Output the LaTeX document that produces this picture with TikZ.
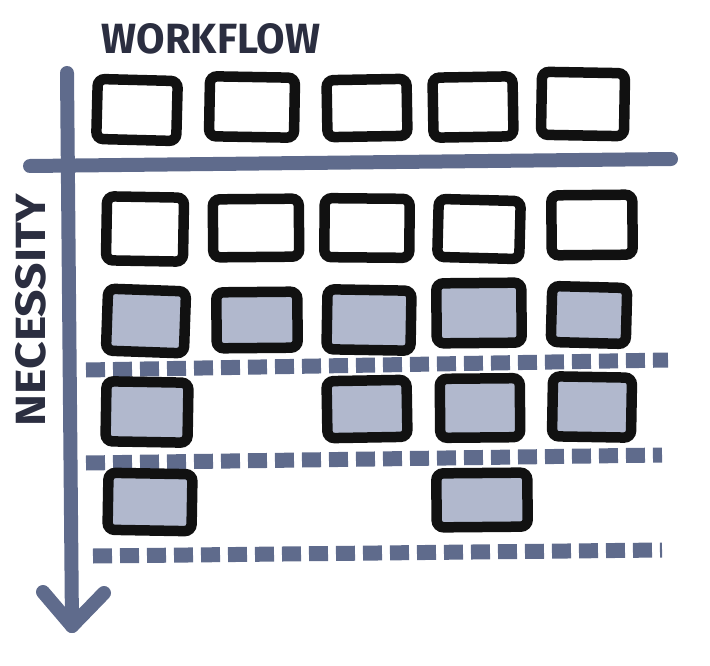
\documentclass[tikz,border=0pt]{standalone}
\usepackage{fontspec}
\setmainfont{Fira Sans}
\definecolor{axiscol}{HTML}{5F6B8C}
\definecolor{fillcol}{HTML}{B1B8CD}
\definecolor{boxcol}{HTML}{111111}
\definecolor{textcol}{HTML}{2B2E40}
\begin{document}
\begin{tikzpicture}[x=1pt,y=-1pt,
  axis/.style={line width=14pt, draw=axiscol, line cap=round, line join=round},
  sep/.style={line width=15pt, draw=axiscol, dash pattern=on 19pt off 8pt},
  card/.style={rectangle, draw=boxcol, line width=10.5pt, rounded corners=7pt, inner sep=0pt},
  wcard/.style={card, fill=white},
  gcard/.style={card, fill=fillcol},
  lbl/.style={inner sep=0pt, text=textcol}]
\useasboundingbox (0,0) rectangle (710,666);

% axes
\coordinate (vtop) at (67,73);
\coordinate (vbot) at (72,626);
\coordinate (aleft) at (43,592);
\coordinate (aright) at (104,593);
\coordinate (hleft) at (30,166);
\coordinate (hright) at (671,159);
\draw[axis] (vtop) -- (vbot);
\draw[axis] (aleft) -- (vbot) -- (aright);
\draw[axis] (hleft) -- (hright);

% separators
\coordinate (s1a) at (86,370);
\coordinate (s1b) at (668,360);
\coordinate (s2a) at (86,463);
\coordinate (s2b) at (662,455);
\coordinate (s3a) at (93,556);
\coordinate (s3b) at (662,550);
\draw[sep] (s1a) -- (s1b);
\draw[sep] (s2a) -- (s2b);
\draw[sep] (s3a) -- (s3b);

% labels
\node[lbl] (workflow) at (211,39) {\resizebox{218pt}{30pt}{\bfseries WORKFLOW}};
\node[lbl, rotate=90] (necessity) at (31,310) {\resizebox{232pt}{30pt}{\bfseries NECESSITY}};

% row 1
\node[wcard, minimum width=80pt, minimum height=60pt, rotate=-1.5] (a1) at (137,110) {};
\node[wcard, minimum width=85pt, minimum height=60pt, rotate=-1] (a2) at (252,107) {};
\node[wcard, minimum width=80pt, minimum height=57pt, rotate=1] (a3) at (367,108) {};
\node[wcard, minimum width=80pt, minimum height=60pt, rotate=1] (a4) at (473,107) {};
\node[wcard, minimum width=83pt, minimum height=63pt, rotate=-1] (a5) at (583,104) {};

% row 2
\node[wcard, minimum width=77pt, minimum height=64pt, rotate=-1] (b1) at (145,229) {};
\node[wcard, minimum width=86pt, minimum height=58pt, rotate=0.5] (b2) at (256,228) {};
\node[wcard, minimum width=85pt, minimum height=59pt, rotate=-0.5] (b3) at (367,228) {};
\node[wcard, minimum width=82pt, minimum height=58pt, rotate=-1.5] (b4) at (479,229) {};
\node[wcard, minimum width=81pt, minimum height=60pt, rotate=0.5] (b5) at (592,225) {};

% row 3
\node[gcard, minimum width=78pt, minimum height=62pt, rotate=-2] (c1) at (146,321) {};
\node[gcard, minimum width=81pt, minimum height=56pt, rotate=0.5] (c2) at (257,320) {};
\node[gcard, minimum width=84pt, minimum height=60pt, rotate=-1] (c3) at (369,320) {};
\node[gcard, minimum width=85pt, minimum height=60pt, rotate=0.5] (c4) at (479,313) {};
\node[gcard, minimum width=75pt, minimum height=56pt, rotate=-1.5] (c5) at (589,315) {};

% row 4
\node[gcard, minimum width=82pt, minimum height=60pt, rotate=-1] (d1) at (147,412) {};
\node[gcard, minimum width=80pt, minimum height=57pt, rotate=1] (d3) at (367,409) {};
\node[gcard, minimum width=80pt, minimum height=59pt, rotate=0.5] (d4) at (480,408) {};
\node[gcard, minimum width=79pt, minimum height=60pt, rotate=-1] (d5) at (592,407) {};

% row 5
\node[gcard, minimum width=84pt, minimum height=57pt, rotate=-1] (e1) at (150,502) {};
\node[gcard, minimum width=91pt, minimum height=54pt, rotate=0.5] (e4) at (482,500) {};
\end{tikzpicture}
\end{document}
